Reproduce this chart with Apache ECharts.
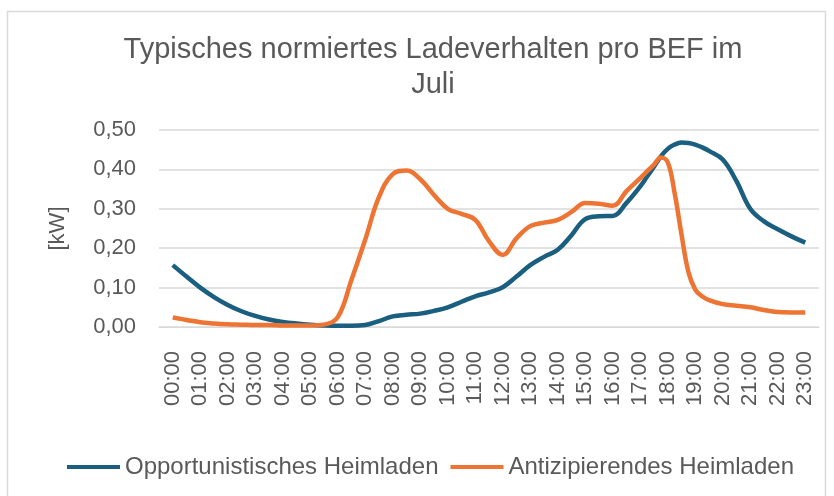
<!DOCTYPE html>
<html>
<head>
<meta charset="utf-8">
<script src="https://cdn.jsdelivr.net/npm/echarts@6/dist/echarts.min.js"></script>
<style>
html,body{margin:0;padding:0;background:#fff;}
#c{width:834px;height:496px;}
</style>
</head>
<body>
<div id="c"></div>
<script>
var categories = ['00:00','01:00','02:00','03:00','04:00','05:00','06:00','07:00','08:00','09:00','10:00','11:00','12:00','13:00','14:00','15:00','16:00','17:00','18:00','19:00','20:00','21:00','22:00','23:00'];
var hours = [0,0.5,1,1.5,2,2.5,3,3.5,4,4.5,5,5.5,6,6.5,7,7.5,8,8.5,9,9.5,10,10.5,11,11.5,12,12.5,13,13.5,14,14.5,15,15.5,16,16.5,17,17.25,17.5,17.75,18,18.25,18.5,18.75,19,19.25,19.5,20,20.5,21,21.5,22,22.5,23];
var opportunistisch = [0.157,0.128,0.100,0.076,0.056,0.040,0.028,0.019,0.013,0.009,0.006,0.004,0.003,0.003,0.005,0.015,0.027,0.031,0.034,0.041,0.050,0.064,0.078,0.088,0.101,0.128,0.157,0.178,0.196,0.233,0.274,0.281,0.282,0.315,0.357,0.382,0.407,0.433,0.452,0.463,0.468,0.467,0.463,0.456,0.447,0.425,0.370,0.300,0.268,0.248,0.230,0.214];
var antizipierend = [0.024,0.018,0.012,0.009,0.007,0.006,0.005,0.005,0.004,0.004,0.004,0.006,0.025,0.120,0.222,0.330,0.388,0.397,0.375,0.335,0.300,0.287,0.272,0.218,0.183,0.225,0.256,0.265,0.272,0.292,0.315,0.313,0.308,0.345,0.378,0.395,0.412,0.430,0.418,0.340,0.235,0.140,0.095,0.078,0.068,0.058,0.054,0.050,0.043,0.038,0.037,0.037];
var yTicks = [0,0.1,0.2,0.3,0.4,0.5];
var seriesNames = ['Opportunistisches Heimladen','Antizipierendes Heimladen'];
var titleText = 'Typisches normiertes Ladeverhalten pro BEF im\nJuli';

function pairs(vals){ return hours.map(function(h,i){ return [h, vals[i]]; }); }

var FONT = '"Liberation Sans", Arial, sans-serif';
var TXT = '#595959';
var chart = echarts.init(document.getElementById('c'), null, {renderer:'canvas'});
chart.setOption({
  backgroundColor:'#ffffff',
  animation:false,
  textStyle:{fontFamily:FONT},
  graphic:[{type:'rect', silent:true, shape:{x:7.5,y:11.5,width:818,height:520}, style:{fill:'none', stroke:'#d9d9d9', lineWidth:1.5}}],
  title:{text:titleText, left:428, top:27, textAlign:'center',
    textStyle:{fontFamily:FONT, fontSize:29, fontWeight:'normal', color:TXT, lineHeight:35}},
  legend:{top:450, left:62, itemWidth:53, itemHeight:4, itemGap:12, icon:'rect',
    textStyle:{fontFamily:FONT, fontSize:24, color:TXT},
    data:seriesNames},
  grid:{left:159, right:15, top:130, bottom:169, containLabel:false},
  xAxis:[{type:'category', data:categories, boundaryGap:true,
      axisLine:{lineStyle:{color:'#d9d9d9', width:1}}, axisTick:{show:false},
      axisLabel:{rotate:90, interval:0, margin:24, fontFamily:FONT, fontSize:22, color:TXT}},
    {type:'value', min:-0.5, max:23.5, show:false}],
  yAxis:{type:'value', min:0, max:0.5, interval:0.1,
    name:'[kW]', nameLocation:'middle', nameGap:90, nameRotate:90,
    nameTextStyle:{fontFamily:FONT, fontSize:22, color:TXT},
    axisLine:{show:false}, axisTick:{show:false},
    splitLine:{lineStyle:{color:'#d9d9d9', width:1.5}},
    axisLabel:{margin:23, fontFamily:FONT, fontSize:22, color:TXT,
      formatter:function(v){ return v.toFixed(2).replace('.', ','); }}},
  series:[
    {name:seriesNames[0], type:'line', xAxisIndex:1, data:pairs(opportunistisch), smooth:0.4, showSymbol:false, lineStyle:{color:'#1a5e80', width:4.5}, itemStyle:{color:'#1a5e80'}},
    {name:seriesNames[1], type:'line', xAxisIndex:1, data:pairs(antizipierend), smooth:0.4, showSymbol:false, lineStyle:{color:'#ed7433', width:4.5}, itemStyle:{color:'#ed7433'}}
  ]
});
</script>
</body>
</html>
